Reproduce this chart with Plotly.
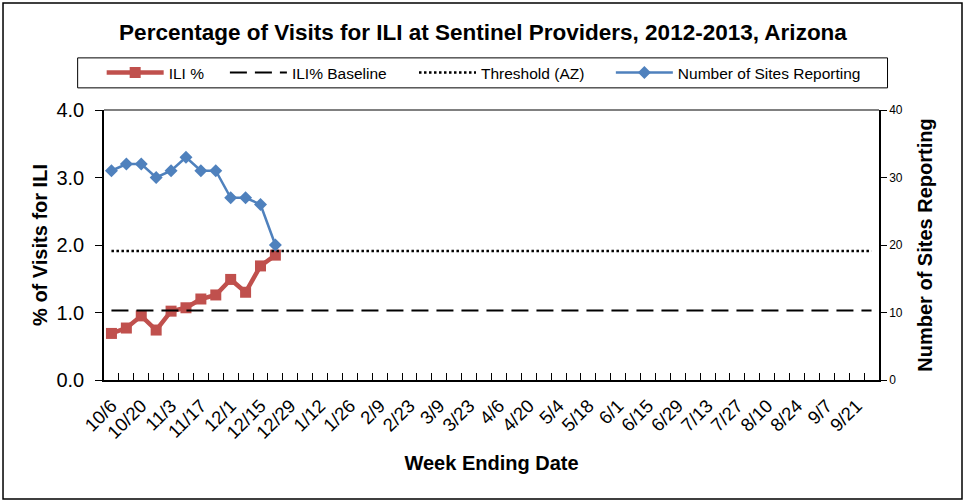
import plotly.graph_objects as go

# week ending dates, 2012-2013 season
weeks = ["10/6", "10/13", "10/20", "10/27", "11/3", "11/10", "11/17", "11/24",
         "12/1", "12/8", "12/15", "12/22", "12/29", "1/5", "1/12", "1/19", "1/26",
         "2/2", "2/9", "2/16", "2/23", "3/2", "3/9", "3/16", "3/23", "3/30",
         "4/6", "4/13", "4/20", "4/27", "5/4", "5/11", "5/18", "5/25",
         "6/1", "6/8", "6/15", "6/22", "6/29", "7/6", "7/13", "7/20", "7/27",
         "8/3", "8/10", "8/17", "8/24", "8/31", "9/7", "9/14", "9/21", "9/28"]

ili_pct = [0.69, 0.77, 0.95, 0.74, 1.02, 1.07, 1.20, 1.26, 1.49, 1.30, 1.69, 1.85]
sites_reporting = [31, 32, 32, 30, 31, 33, 31, 31, 27, 27, 26, 20]
baseline = 1.03
threshold = 1.91

tick_text = [w if i % 2 == 0 else "" for i, w in enumerate(weeks)]

FONT = "Arial, Liberation Sans, sans-serif"
RED = "#C0504D"
BLUE = "#4F81BD"

fig = go.Figure()

fig.add_trace(go.Scatter(
    x=weeks[:len(ili_pct)], y=ili_pct, name="ILI %", mode="lines+markers",
    line=dict(color=RED, width=4.5), marker=dict(symbol="square", size=11, color=RED),
    legend="legend"))
fig.add_trace(go.Scatter(
    x=weeks, y=[baseline] * len(weeks), name="ILI% Baseline", mode="lines",
    line=dict(color="black", width=2, dash="17px,8px"), legend="legend2"))
fig.add_trace(go.Scatter(
    x=weeks, y=[threshold] * len(weeks), name="Threshold (AZ)", mode="lines",
    line=dict(color="black", width=2.5, dash="2.5px,2.5px"), legend="legend3"))
fig.add_trace(go.Scatter(
    x=weeks[:len(sites_reporting)], y=sites_reporting, name="Number of Sites Reporting",
    mode="lines+markers", line=dict(color=BLUE, width=2.5),
    marker=dict(symbol="diamond", size=10, color=BLUE), yaxis="y2", legend="legend4"))

# legend entries laid out in one row inside a shared box
leg = dict(orientation="h", yanchor="middle", y=1.137, xanchor="left", itemwidth=57,
           font=dict(family=FONT, size=15.5, color="black"), bgcolor="rgba(0,0,0,0)")

fig.update_layout(
    width=966, height=504,
    margin=dict(l=104, r=87, t=110, b=124),
    paper_bgcolor="white", plot_bgcolor="white",
    font=dict(family=FONT, color="black"),
    showlegend=True,
    title=dict(text="<b>Percentage of Visits for ILI at Sentinel Providers, 2012-2013, Arizona</b>",
               x=0.5, xanchor="center", y=0.937, yanchor="middle",
               font=dict(family=FONT, size=22.5, color="black")),
    legend=dict(leg, x=-0.003),
    legend2=dict(leg, x=0.156),
    legend3=dict(leg, x=0.400),
    legend4=dict(leg, x=0.654),
    xaxis=dict(type="category", categoryorder="array", categoryarray=weeks,
               range=[-0.5, len(weeks) - 0.5],
               tickmode="array", tickvals=weeks, ticktext=tick_text, tickson="boundaries",
               ticks="inside", ticklen=7, tickcolor="black", tickangle=-45,
               ticklabelstandoff=6,
               tickfont=dict(size=18.5), showline=True, linecolor="black", linewidth=1.5,
               showgrid=False, zeroline=False,
               title=dict(text="<b>Week Ending Date</b>", font=dict(size=20), standoff=14)),
    yaxis=dict(range=[0, 4], dtick=1, tickformat=".1f", ticks="outside", ticklen=7,
               ticklabelstandoff=7,
               tickcolor="black", tickfont=dict(size=20), showline=True, linecolor="black",
               linewidth=1.5, showgrid=False, zeroline=False,
               title=dict(text="<b>% of Visits for ILI</b>", font=dict(size=20), standoff=3)),
    yaxis2=dict(range=[0, 40], dtick=10, overlaying="y", side="right", ticks="outside",
                ticklen=6, tickcolor="black", tickfont=dict(size=12), showline=True,
                linecolor="black", linewidth=1.5, showgrid=False, zeroline=False,
                title=dict(text="<b>Number of Sites Reporting</b>", font=dict(size=20),
                           standoff=16)),
    shapes=[
        # gray top edge of the plot area
        dict(type="line", xref="paper", yref="paper", x0=0, x1=1, y0=1, y1=1,
             line=dict(color="#808080", width=2)),
        # legend box
        dict(type="rect", xref="paper", yref="paper", x0=-0.034, x1=1.011,
             y0=1.082, y1=1.193, line=dict(color="black", width=1)),
        # outer border
        dict(type="rect", xref="paper", yref="paper", x0=-0.1303, x1=1.1071,
             y0=-0.4407, y1=1.3963, line=dict(color="black", width=1.5)),
    ],
)

fig.write_html("out.html", config={"displayModeBar": False},
               post_script="document.body.style.margin = '0';")
